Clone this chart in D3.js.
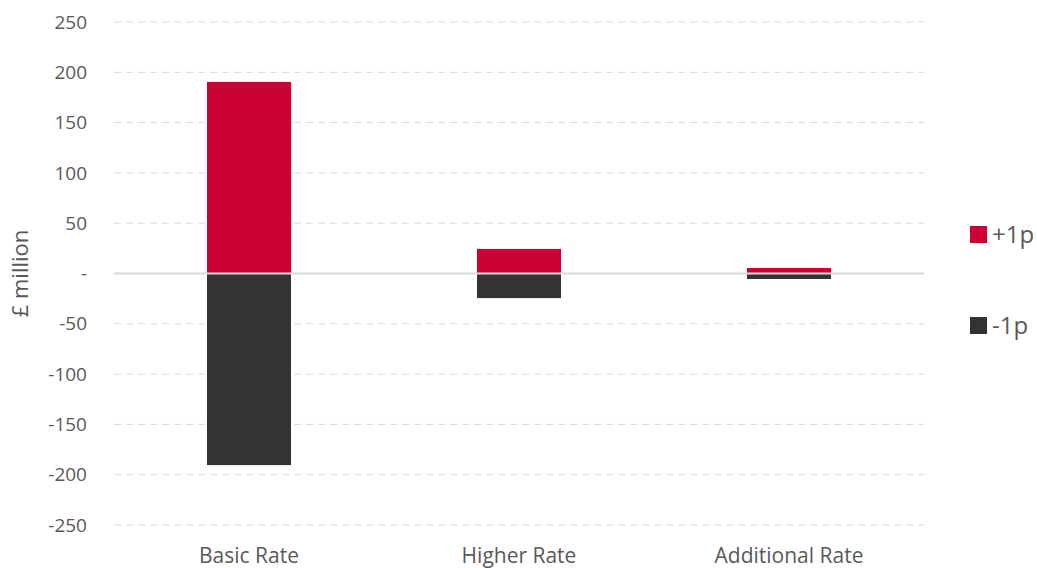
<!DOCTYPE html>
<html lang="en">
<head>
    <meta charset="UTF-8">
    <title>Income tax rate change</title>
    <style>
        body { margin: 0; background: white; }
        svg text { font-family: "Open Sans", Lato, sans-serif; fill: #595959; }
    </style>
</head>
<body>
    <script src="https://d3js.org/d3.v7.min.js"></script>
    <script>
        // data
        let categories = ['Basic Rate', 'Higher Rate', 'Additional Rate'];
        let plusOne = [191, 25, 6];
        let minusOne = [-191, -25, -6];
        let seriesNames = ['+1p', '-1p'];
        let seriesColors = ['#cc0033', '#333333'];
        let yTicks = [-250, -200, -150, -100, -50, 0, 50, 100, 150, 200, 250];

        {
            let width = 1037, height = 568;
            let plotLeft = 114, plotRight = 924, plotTop = 22, plotBottom = 525;

            let svg = d3.select('body').append('svg')
                .attr('width', width)
                .attr('height', height);

            let x = d3.scaleBand().domain(categories).range([plotLeft, plotRight])
                .paddingInner(0.685).paddingOuter(0.3425);
            let y = d3.scaleLinear().domain([-250, 250]).range([plotBottom, plotTop]);

            // gridlines
            svg.append('g').selectAll('line')
                .data(yTicks.filter(d => d !== 0))
                .enter().append('line')
                .attr('x1', plotLeft).attr('x2', plotRight)
                .attr('y1', d => y(d)).attr('y2', d => y(d))
                .attr('stroke', '#d9d9d9')
                .attr('stroke-width', 1)
                .attr('stroke-dasharray', '7,5');

            // y tick labels
            svg.append('g').selectAll('text')
                .data(yTicks)
                .enter().append('text')
                .attr('x', 87)
                .attr('y', d => y(d))
                .attr('dy', '0.35em')
                .attr('text-anchor', 'end')
                .style('font-size', '19px')
                .text(d => d === 0 ? '-' : d);

            // bars
            let series = [plusOne, minusOne];
            series.forEach((vals, s) => {
                svg.append('g').selectAll('rect')
                    .data(vals)
                    .enter().append('rect')
                    .attr('x', (d, i) => x(categories[i]))
                    .attr('width', x.bandwidth())
                    .attr('y', d => y(Math.max(0, d)))
                    .attr('height', d => Math.abs(y(d) - y(0)))
                    .attr('fill', seriesColors[s])
                    .attr('stroke', '#ffffff')
                    .attr('stroke-width', 1);
            });

            // zero line
            svg.append('line')
                .attr('x1', plotLeft).attr('x2', plotRight)
                .attr('y1', y(0)).attr('y2', y(0))
                .attr('stroke', '#d9d9d9')
                .attr('stroke-width', 2);

            // category labels
            svg.append('g').selectAll('text')
                .data(categories)
                .enter().append('text')
                .attr('x', d => x(d) + x.bandwidth() / 2)
                .attr('y', 556)
                .attr('dy', '0.35em')
                .attr('text-anchor', 'middle')
                .style('font-size', '21px')
                .text(d => d);

            // y axis title
            svg.append('text')
                .attr('transform', `translate(20,${y(0)}) rotate(-90)`)
                .attr('text-anchor', 'middle')
                .attr('dy', '0.35em')
                .style('font-size', '22px')
                .text('£ million');

            // legend
            let legend = svg.append('g').selectAll('g')
                .data(seriesNames)
                .enter().append('g')
                .attr('transform', (d, i) => `translate(970,${226 + i * 91})`);
            legend.append('rect')
                .attr('width', 17).attr('height', 17)
                .attr('fill', (d, i) => seriesColors[i]);
            legend.append('text')
                .attr('x', 22).attr('y', 8.5)
                .attr('dy', '0.35em')
                .style('font-size', '24px')
                .text(d => d);
        }
    </script>
</body>
</html>
